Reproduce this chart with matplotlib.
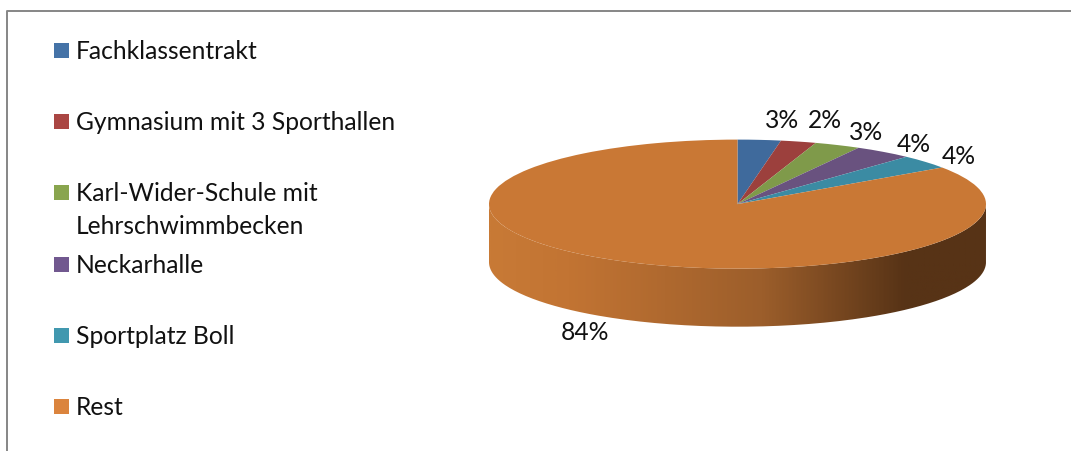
import numpy as np
import matplotlib.pyplot as plt
from matplotlib.colors import LinearSegmentedColormap
from matplotlib.patches import Rectangle, PathPatch
from matplotlib.path import Path

plt.rcParams['font.family'] = ['Lato', 'DejaVu Sans']

# Data
categories = ["Fachklassentrakt", "Gymnasium mit 3 Sporthallen", "Karl-Wider-Schule mit\nLehrschwimmbecken",
              "Neckarhalle", "Sportplatz Boll", "Rest"]
values = [2.8, 2.3, 3.0, 3.8, 3.5, 84.6]
pct_labels = ["3%", "2%", "3%", "4%", "4%", "84%"]
face_colors = ['#3F6A9C', '#9C403D', '#7F9A4A', '#69527F', '#3B8BA3', '#C97835']
legend_colors = ['#4573A7', '#AA4643', '#89A54E', '#71588F', '#4198AF', '#DB843D']

W, H = 1071, 451
fig = plt.figure(figsize=(W / 100, H / 100), dpi=100)

#Background axes in pixel coordinates, for frame and legend
bg = fig.add_axes([0, 0, 1, 1])
bg.set_xlim(0, W)
bg.set_ylim(H, 0)
bg.axis('off')
bg.plot([7, 7, W], [H, 11, 11], color='#868686', lw=1.4)

legend_y = [51, 122, 193, 265, 336, 407]
for label, color, y in zip(categories, legend_colors, legend_y):
    bg.add_patch(Rectangle((54, y - 8), 15, 15, facecolor=color, edgecolor='none'))
    bg.text(76, y - 11, label, fontsize=17.7, color='#111111', va='top', ha='left', linespacing=1.53)

#Pie axes: top ellipse plus the extruded side below it
depth = 0.9
ax = fig.add_axes([489 / W, 1 - 326.7 / H, 497 / W, 187.1 / H])

# side band with horizontal gradient
t = np.linspace(np.pi, 2 * np.pi, 200)
xs = np.cos(t)
ys = np.sin(t)
verts = np.r_[np.c_[xs, ys], np.c_[xs[::-1], ys[::-1] - depth]]
side = PathPatch(Path(np.r_[verts, verts[:1]]), facecolor='none', edgecolor='none')
ax.add_patch(side)
cmap = LinearSegmentedColormap.from_list('side', [(0, '#C87A36'), (0.16, '#C27433'), (0.55, '#9C5E2B'),
                                                  (0.84, '#573316'), (1, '#573316')])
grad = ax.imshow(np.linspace(0, 1, 400).reshape(1, -1), extent=(-1, 1, -1 - depth, 0), cmap=cmap,
                 aspect='auto', zorder=1)
grad.set_clip_path(side)

wedges, _ = ax.pie(values, colors=face_colors, startangle=90, counterclock=False, radius=1,
                   wedgeprops={'linewidth': 0, 'zorder': 2})
ax.set_aspect('auto')
ax.set_xlim(-1, 1)
ax.set_ylim(-1 - depth, 1)

#Percent labels
label_pos = [(782, 120), (825, 121), (866, 133), (914, 145), (959, 157), (585, 333)]
for text, (px, py) in zip(pct_labels, label_pos):
    bg.text(px, py, text, fontsize=17.7, color='#111111', ha='center', va='center', zorder=5)

fig.savefig('out.png', dpi=100)
